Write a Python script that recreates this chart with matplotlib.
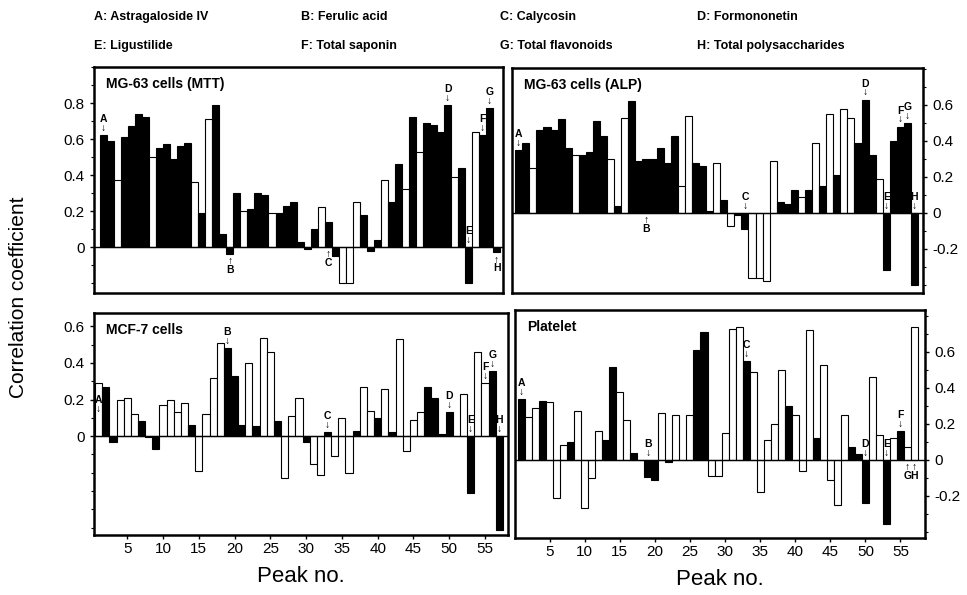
import matplotlib.pyplot as plt
import numpy as np
from matplotlib.ticker import MultipleLocator, FuncFormatter

plt.rcParams['font.family'] = ['Liberation Sans', 'DejaVu Sans']
plt.rcParams['axes.unicode_minus'] = False

peaks = np.arange(1, 58)

# correlation coefficient of each chromatographic peak
mtt = [0.62, 0.59, 0.37, 0.61, 0.67, 0.74, 0.72, 0.50, 0.55, 0.57,
       0.49, 0.56, 0.58, 0.36, 0.19, 0.71, 0.79, 0.07, -0.04, 0.30,
       0.20, 0.21, 0.30, 0.29, 0.19, 0.19, 0.23, 0.25, 0.03, -0.01,
       0.10, 0.22, 0.14, -0.05, -0.20, -0.20, 0.25, 0.18, -0.02, 0.04,
       0.37, 0.25, 0.46, 0.32, 0.72, 0.53, 0.69, 0.68, 0.64, 0.79,
       0.39, 0.44, -0.20, 0.64, 0.62, 0.77, -0.03]
alp = [0.35, 0.39, 0.25, 0.46, 0.48, 0.46, 0.52, 0.36, 0.32, 0.32,
       0.34, 0.51, 0.43, 0.30, 0.04, 0.53, 0.62, 0.29, 0.30, 0.30,
       0.36, 0.28, 0.43, 0.15, 0.54, 0.28, 0.26, 0.01, 0.28, 0.07,
       -0.07, -0.01, -0.09, -0.36, -0.36, -0.38, 0.29, 0.06, 0.05, 0.13,
       0.09, 0.13, 0.39, 0.15, 0.55, 0.21, 0.58, 0.53, 0.39, 0.63,
       0.32, 0.19, -0.32, 0.40, 0.48, 0.50, -0.40]
mcf7 = [0.29, 0.27, -0.03, 0.20, 0.21, 0.12, 0.085, -0.005, -0.07, 0.17,
        0.20, 0.13, 0.18, 0.06, -0.19, 0.12, 0.32, 0.51, 0.48, 0.33,
        0.06, 0.40, 0.055, 0.535, 0.46, 0.08, -0.23, 0.11, 0.21, -0.03,
        -0.15, -0.21, 0.02, -0.11, 0.10, -0.20, 0.03, 0.27, 0.14, 0.10,
        0.26, 0.02, 0.53, -0.08, 0.09, 0.13, 0.27, 0.21, 0.01, 0.13,
        0.0, 0.23, -0.31, 0.46, 0.29, 0.355, -0.515]
platelet = [0.34, 0.24, 0.29, 0.33, 0.32, -0.21, 0.08, 0.10, 0.27, -0.27,
            -0.10, 0.16, 0.11, 0.515, 0.38, 0.22, 0.04, 0.0, -0.095, -0.11,
            0.26, -0.01, 0.25, 0.0, 0.25, 0.61, 0.71, -0.09, -0.09, 0.15,
            0.73, 0.74, 0.55, 0.49, -0.18, 0.11, 0.20, 0.50, 0.30, 0.25,
            -0.06, 0.72, 0.12, 0.53, -0.115, -0.25, 0.25, 0.07, 0.03, -0.24,
            0.46, 0.14, -0.355, 0.12, 0.16, 0.07, 0.74]

# peaks drawn as open (white) bars, the rest are filled
mtt_open = [3, 8, 14, 16, 21, 25, 32, 35, 36, 37, 41, 44, 46, 51, 54]
alp_open = [3, 9, 14, 16, 24, 25, 29, 31, 34, 35, 36, 37, 41, 43, 45, 47, 48, 52]
mcf7_open = [1, 4, 5, 6, 10, 11, 12, 13, 15, 16, 17, 18, 22, 24, 25, 27, 28, 29,
             31, 32, 34, 35, 36, 38, 39, 41, 43, 44, 45, 46, 52, 54, 55]
platelet_open = [2, 3, 5, 6, 7, 9, 10, 11, 12, 15, 16, 21, 23, 25, 28, 29, 30, 31,
                 32, 34, 35, 36, 37, 38, 40, 41, 42, 44, 45, 46, 47, 51, 52, 54, 56, 57]

compounds = ['A: Astragaloside IV', 'B: Ferulic acid', 'C: Calycosin', 'D: Formononetin',
             'E: Ligustilide', 'F: Total saponin', 'G: Total flavonoids',
             'H: Total polysaccharides']
marker_peaks = {'A': 1, 'B': 19, 'C': 33, 'D': 50, 'E': 53, 'F': 55, 'G': 56, 'H': 57}

mtt_below = ['B', 'C', 'H']
alp_below = ['B']
mcf7_below = []
platelet_below = ['G', 'H']

panels = [
    dict(vals=mtt, open=mtt_open, below=mtt_below, title='MG-63 cells (MTT)',
         rect=[0.0972, 0.5076, 0.423, 0.3798], xlim=(-0.35, 57.9), ylim=(-0.255, 1.0),
         yticks=[0, 0.2, 0.4, 0.6, 0.8], side='left', bottom=False, fixed={}),
    dict(vals=alp, open=alp_open, below=alp_below, title='MG-63 cells (ALP)',
         rect=[0.5295, 0.5076, 0.425, 0.378], xlim=(0.05, 58.2), ylim=(-0.445, 0.805),
         yticks=[-0.2, 0, 0.2, 0.4, 0.6], side='right', bottom=False, fixed={}),
    dict(vals=mcf7, open=mcf7_open, below=mcf7_below, title='MCF-7 cells',
         rect=[0.0972, 0.1008, 0.428, 0.373], xlim=(0.35, 58.2), ylim=(-0.54, 0.672),
         yticks=[0, 0.2, 0.4, 0.6], side='left', bottom=True, fixed={'A': 0.12}),
    dict(vals=platelet, open=platelet_open, below=platelet_below, title='Platelet',
         rect=[0.5326, 0.0958, 0.424, 0.383], xlim=(0.07, 58.5), ylim=(-0.435, 0.833),
         yticks=[-0.2, 0, 0.2, 0.4, 0.6], side='right', bottom=True, fixed={}),
]

fig = plt.figure(figsize=(9.67, 5.95), dpi=100)

for p in panels:
    ax = fig.add_axes(p['rect'])
    colors = ['white' if n in p['open'] else 'black' for n in peaks]
    ax.bar(peaks, p['vals'], width=1.0, color=colors, edgecolor='black', linewidth=0.8)
    ax.axhline(0, color='black', lw=1.0)
    ax.set_xlim(*p['xlim'])
    ax.set_ylim(*p['ylim'])
    for s in ax.spines.values():
        s.set_linewidth(1.8)

    ax.set_yticks(p['yticks'])
    ax.yaxis.set_minor_locator(MultipleLocator(0.1))
    ax.yaxis.set_major_formatter(FuncFormatter(lambda v, _: '0' if abs(v) < 1e-9 else f'{v:.1f}'))
    if p['side'] == 'right':
        ax.yaxis.tick_right()
    ax.tick_params(axis='y', which='major', length=3, width=1, labelsize=11)
    ax.tick_params(axis='y', which='minor', length=2, width=0.8)

    if p['bottom']:
        ax.set_xticks([5, 10, 15, 20, 25, 30, 35, 40, 45, 50, 55])
        ax.tick_params(axis='x', length=3, width=1, labelsize=11, pad=2)
        ax.set_xlabel('Peak no.', fontsize=16, labelpad=7)
    else:
        ax.set_xticks([])

    ax.text(0.03, 0.955, p['title'], transform=ax.transAxes, fontsize=10,
            fontweight='bold', ha='left', va='top')

    for letter, pk in marker_peaks.items():
        v = p['vals'][pk - 1]
        kw = dict(ha='center', fontsize=7.5, fontweight='bold', linespacing=0.85)
        if letter in p['fixed']:
            ax.text(pk, p['fixed'][letter], letter + '\n↓', va='bottom', **kw)
        elif letter in p['below']:
            ax.text(pk, min(v, 0) - 0.012, '↑\n' + letter, va='top', **kw)
        else:
            ax.text(pk, max(v, 0) + 0.012, letter + '\n↓', va='bottom', **kw)

# compound key across the top
key_x = [0.097, 0.311, 0.517, 0.721]
for i, name in enumerate(compounds):
    fig.text(key_x[i % 4], 0.972 - 0.05 * (i // 4), name, fontsize=9,
             fontweight='bold', ha='left', va='center')

fig.text(0.019, 0.5, 'Correlation coefficient', rotation=90, fontsize=15,
         ha='center', va='center')

fig.savefig('out.png', dpi=100)
